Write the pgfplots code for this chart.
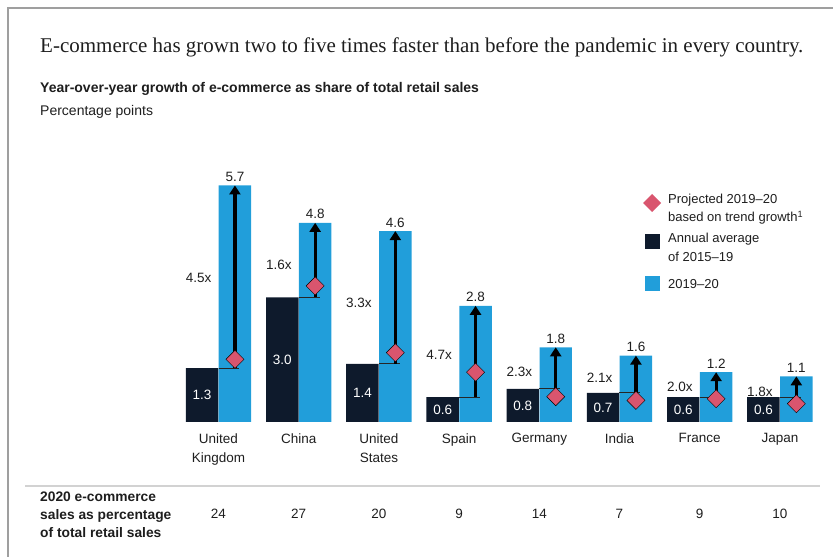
\documentclass[border=0pt]{standalone}
\usepackage{pgfplots}
\pgfplotsset{compat=1.18}
\usepackage{pgfplotstable}
\usepackage{fontspec}
\setmainfont{Liberation Sans}
\newfontfamily\seriffont{Liberation Serif}
\usetikzlibrary{arrows.meta}
\definecolor{navy}{RGB}{14,26,44}
\definecolor{skyb}{RGB}{33,158,218}
\definecolor{pinkd}{RGB}{217,85,110}
\definecolor{txt}{RGB}{30,30,30}

\pgfplotstableread{
x dark light proj multy mult pct
0 1.3 5.7 1.51 3.47 4.5x 24
1 3.0 4.8 3.28 3.78 1.6x 27
2 1.4 4.6 1.67 2.87 3.3x 20
3 0.6 2.8 1.20 1.61 4.7x 9
4 0.8 1.8 0.61 1.20 2.3x 14
5 0.7 1.6 0.52 1.06 2.1x 7
6 0.6 1.2 0.56 0.84 2.0x 9
7 0.6 1.1 0.44 0.72 1.8x 10
}\data

\begin{document}
\begin{tikzpicture}[x=1pt,y=1pt]
\useasboundingbox (0,0) rectangle (833,557);
\draw[gray!75, line width=1.5pt] (8,0) -- (8,549) -- (833,549);
\node[anchor=west, inner sep=0, text=txt, font=\seriffont\fontsize{21}{24}\selectfont] at (40,510) {E-commerce has grown two to five times faster than before the pandemic in every country.};
\node[anchor=west, inner sep=0, text=txt, font=\bfseries\fontsize{14}{16}\selectfont] at (40,468) {Year-over-year growth of e-commerce as share of total retail sales};
\node[anchor=west, inner sep=0, text=txt, font=\fontsize{14}{16}\selectfont] at (40,445) {Percentage points};
% legend
\fill[pinkd] (652,363) -- (661,354) -- (652,345) -- (643,354) -- cycle;
\node[anchor=north west, inner sep=0, align=left, text=txt, font=\fontsize{13}{18}\selectfont] at (668,363) {Projected 2019--20\\based on trend growth\textsuperscript{1}};
\fill[navy] (645,308) rectangle (660,323);
\node[anchor=north west, inner sep=0, align=left, text=txt, font=\fontsize{13}{19}\selectfont] at (668,324) {Annual average\\of 2015--19};
\fill[skyb] (645,266) rectangle (660,281);
\node[anchor=west, inner sep=0, text=txt, font=\fontsize{13}{18}\selectfont] at (668,273) {2019--20};
% separator and bottom row
\draw[gray!35, line width=1.5pt] (25,71) -- (820,71);
\node[anchor=north west, inner sep=0, align=left, text=txt, font=\bfseries\fontsize{13.8}{18}\selectfont] at (40,65) {2020 e-commerce\\sales as percentage\\of total retail sales};

\begin{axis}[
  at={(178.4pt,135pt)}, anchor=south west,
  scale only axis, width=641.6pt, height=249pt,
  xmin=-0.5, xmax=7.5, ymin=0, ymax=6,
  clip=false,
  axis line style={draw=none},
  ytick=\empty,
  xtick={0,...,7},
  xticklabels={United\\Kingdom, China, United\\States, Spain, Germany, India, France, Japan},
  major tick length=0pt,
  xticklabel style={align=center, text=txt, font=\fontsize{13.5}{19}\selectfont, yshift=-8pt},
  growth/.style={black, line width=3.2pt, -{Triangle[width=11pt,length=9pt]}, mark=none},
]
% bars
\addplot[ybar, bar width=0.405, bar shift=-0.205, fill=navy, draw=none] table[x=x, y=dark] {\data};
\addplot[ybar, bar width=0.405, bar shift=0.205, fill=skyb, draw=none] table[x=x, y=light] {\data};
% connector lines
\addplot[black!85, line width=1pt, quiver={u=0.26, v=0}] table[x=x, y=dark] {\data};
% growth arrows (from 2015-19 average to 2019-20)
\addplot[growth] coordinates {(0.205,1.3) (0.205,5.7)};
\addplot[growth] coordinates {(1.205,3.0) (1.205,4.8)};
\addplot[growth] coordinates {(2.205,1.4) (2.205,4.6)};
\addplot[growth] coordinates {(3.205,0.6) (3.205,2.8)};
\addplot[growth] coordinates {(4.205,0.8) (4.205,1.8)};
\addplot[growth] coordinates {(5.205,0.7) (5.205,1.6)};
\addplot[growth] coordinates {(6.205,0.6) (6.205,1.2)};
\addplot[growth] coordinates {(7.205,0.6) (7.205,1.1)};
% projected diamonds
\addplot[only marks, mark=square*, mark size=6.4pt, mark options={rotate=45, fill=pinkd, draw=none}]
  table[x expr=\thisrow{x}+0.205, y=proj] {\data};
% values above light bars
\addplot[only marks, mark=none, nodes near coords, point meta=explicit symbolic,
  every node near coord/.append style={anchor=south, inner sep=3.5pt, text=txt, font=\fontsize{13.5}{16}\selectfont}]
  table[x expr=\thisrow{x}+0.205, y=light, meta=light] {\data};
% values inside dark bars
\addplot[only marks, mark=none, nodes near coords, point meta=explicit symbolic,
  every node near coord/.append style={anchor=center, text=white, font=\fontsize{13.5}{16}\selectfont}]
  table[x expr=\thisrow{x}-0.205, y expr=\thisrow{dark}/2, meta=dark] {\data};
% multipliers
\addplot[only marks, mark=none, nodes near coords, point meta=explicit symbolic,
  every node near coord/.append style={anchor=west, inner sep=0pt, text=txt, font=\fontsize{13.5}{16}\selectfont}]
  table[x expr=\thisrow{x}-0.41, y=multy, meta=mult] {\data};
% 2020 share row
\addplot[only marks, mark=none, nodes near coords, point meta=explicit symbolic,
  every node near coord/.append style={anchor=center, text=txt, font=\fontsize{13.5}{16}\selectfont}]
  table[x=x, y expr=-2.217, meta=pct] {\data};
\end{axis}
\end{tikzpicture}
\end{document}
